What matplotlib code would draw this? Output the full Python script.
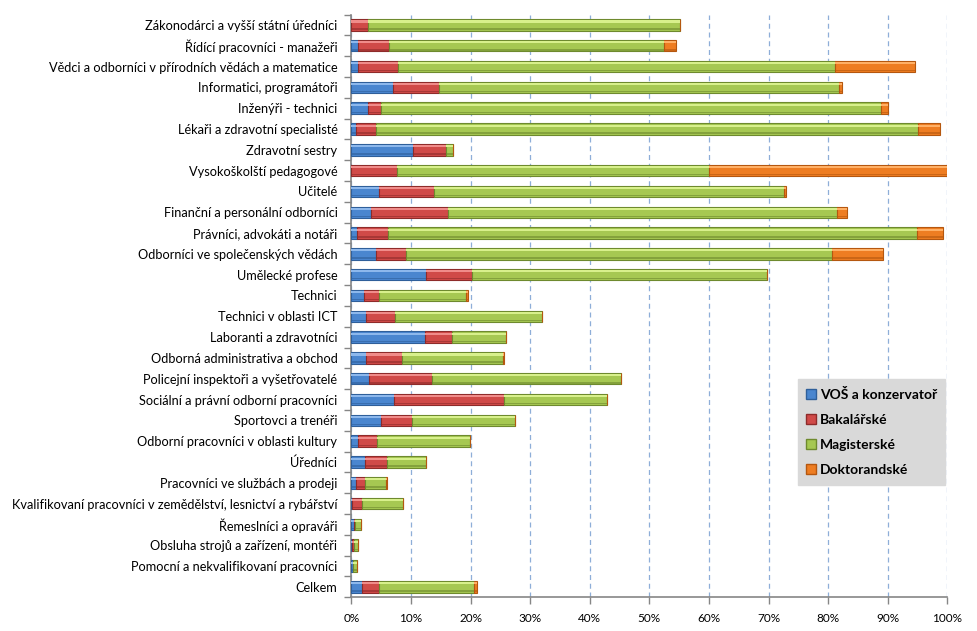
import matplotlib
matplotlib.use("Agg")
import matplotlib.pyplot as plt
import numpy as np
from matplotlib.patches import Patch

plt.rcParams['font.family'] = ['Lato', 'DejaVu Sans']

categories = [
    "Zákonodárci a vyšší státní úředníci",
    "Řídící pracovníci - manažeři",
    "Vědci a odborníci v přírodních vědách a matematice",
    "Informatici, programátoři",
    "Inženýři - technici",
    "Lékaři a zdravotní specialisté",
    "Zdravotní sestry",
    "Vysokoškolští pedagogové",
    "Učitelé",
    "Finanční a personální odborníci",
    "Právníci, advokáti a notáři",
    "Odborníci ve společenských vědách",
    "Umělecké profese",
    "Technici",
    "Technici v oblasti ICT",
    "Laboranti a zdravotníci",
    "Odborná administrativa a obchod",
    "Policejní inspektoři a vyšetřovatelé",
    "Sociální a právní odborní pracovníci",
    "Sportovci a trenéři",
    "Odborní pracovníci v oblasti kultury",
    "Úředníci",
    "Pracovníci ve službách a prodeji",
    "Kvalifikovaní pracovníci v zemědělství, lesnictví a rybářství",
    "Řemeslníci a opraváři",
    "Obsluha strojů a zařízení, montéři",
    "Pomocní a nekvalifikovaní pracovníci",
    "Celkem",
]

vos = [0.0, 1.2, 1.2, 7.0, 2.8, 0.8, 10.3, 0.0, 4.6, 3.3, 1.0, 4.1, 12.5, 2.2,
       2.4, 12.3, 2.5, 3.0, 7.1, 4.9, 1.1, 2.3, 0.7, 0.1, 0.5, 0.1, 0.2, 1.8]
bakalarske = [2.75, 5.1, 6.6, 7.7, 2.1, 3.3, 5.6, 7.7, 9.3, 12.9, 5.2, 5.1, 7.7, 2.4,
              4.9, 4.6, 6.0, 10.6, 18.5, 5.3, 3.2, 3.7, 1.6, 1.7, 0.1, 0.3, 0.1, 2.9]
magisterske = [52.35, 46.2, 73.4, 67.1, 83.9, 91.0, 1.2, 52.3, 58.7, 65.3, 88.7, 71.5, 49.6, 14.7,
               24.7, 9.1, 17.0, 31.7, 17.3, 17.2, 15.6, 6.6, 3.6, 6.8, 1.0, 0.8, 0.7, 15.8]
doktorandske = [0.0, 1.9, 13.3, 0.6, 1.3, 3.7, 0.0, 40.0, 0.3, 1.6, 4.3, 8.5, 0.0, 0.2,
                0.0, 0.0, 0.1, 0.0, 0.0, 0.0, 0.0, 0.0, 0.1, 0.0, 0.0, 0.0, 0.0, 0.6]

series_names = ["VOŠ a konzervatoř", "Bakalářské", "Magisterské", "Doktorandské"]
series = [vos, bakalarske, magisterske, doktorandske]
colors = ["#4A86CF", "#D04A48", "#A6C852", "#EE7D22"]
light = ["#8DB8EC", "#F08C8A", "#D8F08C", "#FFB066"]
dark = ["#2F5F9A", "#8E2B2A", "#6E8A2E", "#B5570F"]

fig = plt.figure(figsize=(9.77, 6.31), dpi=100)
ax = fig.add_axes([0.3596, 0.0535, 0.6100, 0.9235])

y = np.arange(len(categories))
h = 0.55
left = np.zeros(len(categories))
for vals, c, lc, dc in zip(series, colors, light, dark):
    v = np.array(vals)
    ax.barh(y, v, left=left, height=h, color=c, edgecolor=dc, linewidth=0.8, zorder=3)
    # bevel highlight (top) and shade (bottom)
    ax.barh(y - h * 0.30, v, left=left, height=h * 0.18, color=lc, linewidth=0, zorder=4)
    ax.barh(y + h * 0.36, v, left=left, height=h * 0.12, color=dc, linewidth=0, zorder=4, alpha=0.6)
    left = left + v

ax.set_xlim(0, 100)
ax.set_ylim(len(categories) - 0.5, -0.5)
ax.set_xticks(np.arange(0, 101, 10))
ax.set_xticklabels([f"{t}%" for t in range(0, 101, 10)], fontsize=8.5)
ax.set_yticks(y)
ax.set_yticklabels(categories, fontsize=9.2)
ax.tick_params(axis='y', length=0, pad=10)
ax.set_yticks(np.arange(-0.5, len(categories), 1), minor=True)
ax.tick_params(axis='y', which='minor', length=5, color='#868686', width=1)
ax.tick_params(axis='x', length=5, color='#868686', width=1, pad=6)

ax.xaxis.grid(True, linestyle=(0, (4, 3)), color='#8EAED8', linewidth=0.9, zorder=0)
ax.set_axisbelow(True)
for s in ['top', 'right']:
    ax.spines[s].set_visible(False)
for s in ['left', 'bottom']:
    ax.spines[s].set_color('#868686')
    ax.spines[s].set_linewidth(1.2)

handles = [Patch(facecolor=c, edgecolor=d, label=n) for c, d, n in zip(colors, dark, series_names)]
leg = ax.legend(handles=handles, loc='upper left', bbox_to_anchor=(0.737, 0.386),
                frameon=True, fancybox=False, handlelength=0.7, handleheight=0.7,
                handletextpad=0.3, labelspacing=0.95, borderpad=0.6,
                prop={'weight': 'bold', 'size': 10})
leg.get_frame().set_facecolor('#D9D9D9')
leg.get_frame().set_edgecolor('#D9D9D9')
leg.get_frame().set_alpha(1)
leg.set_zorder(10)

fig.savefig("out.png", dpi=100)
